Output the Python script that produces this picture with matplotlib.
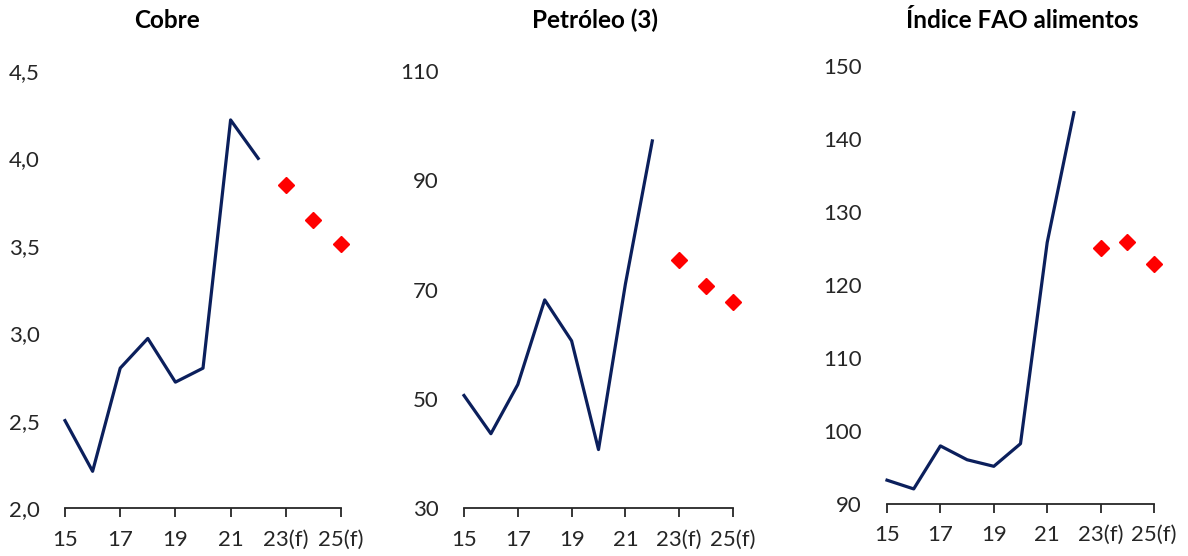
import matplotlib
matplotlib.use("Agg")
import matplotlib.pyplot as plt

years_hist = [15, 16, 17, 18, 19, 20, 21, 22]
years_fc = [23, 24, 25]
xtick_pos = [15, 17, 19, 21, 23, 25]
xtick_labels = ["15", "17", "19", "21", "23(f)", "25(f)"]

cobre_hist = [2.50, 2.21, 2.80, 2.97, 2.72, 2.80, 4.22, 4.00]
cobre_fc = [3.85, 3.65, 3.51]
cobre_ticks = [2.0, 2.5, 3.0, 3.5, 4.0, 4.5]
cobre_tlabels = ["2,0", "2,5", "3,0", "3,5", "4,0", "4,5"]

petro_hist = [50.6, 43.6, 52.6, 68.1, 60.6, 40.7, 71.0, 97.2]
petro_fc = [75.4, 70.6, 67.7]
petro_ticks = [30, 50, 70, 90, 110]
petro_tlabels = ["30", "50", "70", "90", "110"]

fao_hist = [93.2, 92.0, 97.9, 96.0, 95.1, 98.2, 125.8, 143.6]
fao_fc = [125.1, 125.9, 122.8]
fao_ticks = [90, 100, 110, 120, 130, 140, 150]
fao_tlabels = ["90", "100", "110", "120", "130", "140", "150"]

titles = ["Cobre", "Petróleo (3)", "Índice FAO alimentos"]

plt.rcParams['font.family'] = ['Lato', 'DejaVu Sans']

fig = plt.figure(figsize=(11.88, 5.56), dpi=100)

W, H = 1188, 556
panels = [
    (65, 341, 508, 71, cobre_hist, cobre_fc, cobre_ticks, cobre_tlabels),
    (464, 733, 508, 71, petro_hist, petro_fc, petro_ticks, petro_tlabels),
    (887, 1154, 503.5, 66, fao_hist, fao_fc, fao_ticks, fao_tlabels),
]
title_x = [167, 595, 1022]

navy = "#0B1F5C"
red = "#FF0000"
txt = "#262626"

for i, (l, r, b, t, hist, fc, yt, ytl) in enumerate(panels):
    ax = fig.add_axes([l / W, 1 - b / H, (r - l) / W, (b - t) / H])
    ax.plot(years_hist, hist, color=navy, lw=2.3, clip_on=False)
    ax.plot(years_fc, fc, ls='none', marker='D', ms=8.5, color=red, clip_on=False)
    ax.set_xlim(15, 25)
    ax.set_ylim(yt[0], yt[-1])
    ax.set_yticks(yt)
    ax.set_yticklabels(ytl)
    ax.set_xticks(xtick_pos)
    ax.set_xticklabels(xtick_labels)
    for s in ['top', 'right', 'left']:
        ax.spines[s].set_visible(False)
    ax.spines['bottom'].set_color(txt)
    ax.spines['bottom'].set_linewidth(1.3)
    ax.tick_params(axis='y', length=0, pad=18, labelsize=16, labelcolor=txt)
    ax.tick_params(axis='x', length=6.5, width=1.3, color=txt, direction='out',
                   pad=9, labelsize=16, labelcolor=txt)
    ax.set_facecolor('none')
    fig.text(title_x[i] / W, 1 - 20 / H, titles[i], ha='center', va='center',
             fontsize=17.5, fontweight='bold', color='black')

fig.savefig("out.png", dpi=100)
